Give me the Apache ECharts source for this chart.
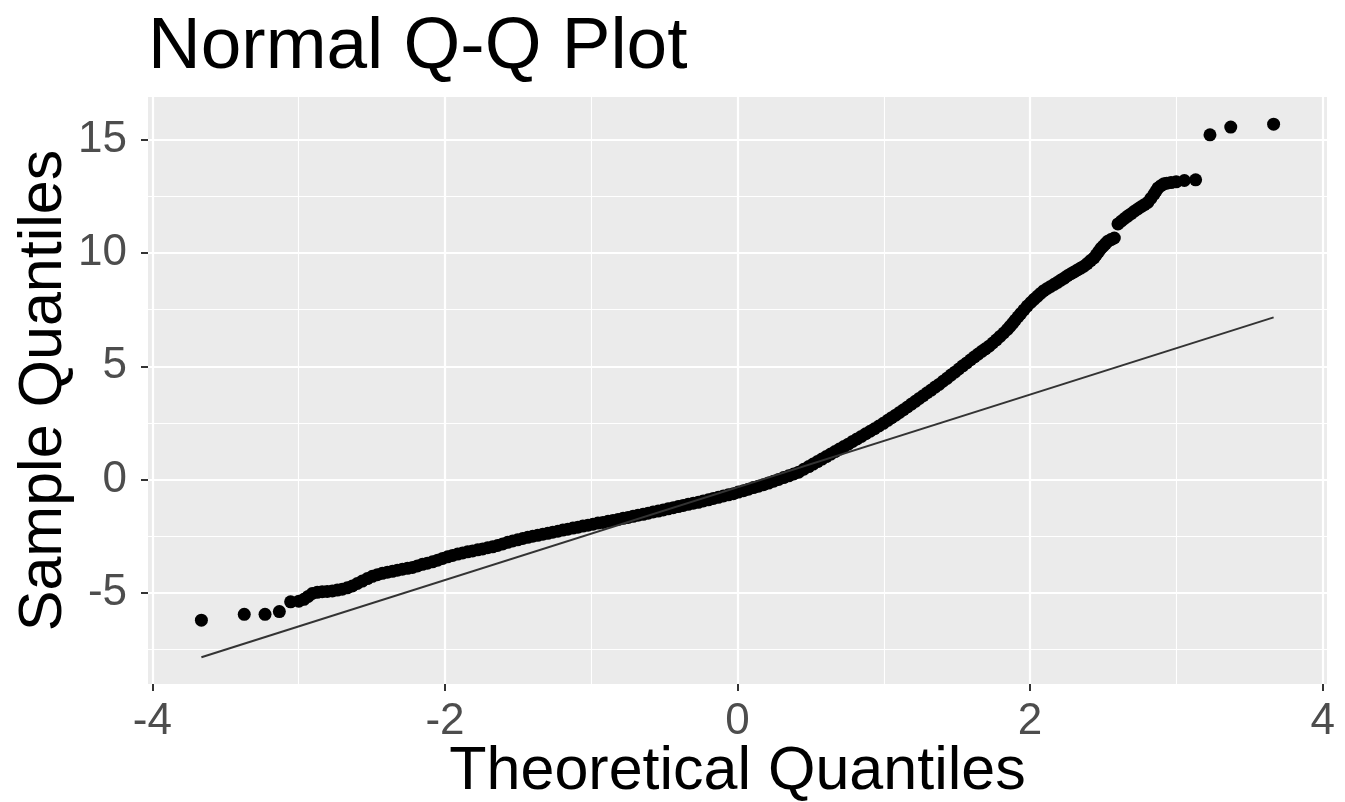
<!DOCTYPE html>
<html>
<head>
<meta charset="utf-8">
<title>Normal Q-Q Plot</title>
<script src="https://cdn.jsdelivr.net/npm/echarts@6/dist/echarts.min.js"></script>
<style>
  html, body { margin: 0; padding: 0; background: #ffffff; }
  #chart { width: 1345px; height: 802px; }
</style>
</head>
<body>
<div id="chart"></div>
<script>
// Theoretical (normal) quantiles and the matching sorted sample values
const theoretical = [
  -3.665, -3.372, -3.23, -3.132,
  -3.055, -2.999, -2.964, -2.935, -2.907, -2.873, -2.839, -2.805, -2.770, -2.736,
  -2.702, -2.668, -2.633, -2.599, -2.565, -2.530, -2.496, -2.462, -2.428, -2.393,
  -2.359, -2.325, -2.291, -2.256, -2.222, -2.188, -2.154, -2.120, -2.085, -2.050,
  -2.016, -1.982, -1.948, -1.913, -1.879, -1.845, -1.811, -1.776, -1.742, -1.708,
  -1.674, -1.640,
  -1.605, -1.571, -1.537, -1.503, -1.468, -1.434, -1.400, -1.366, -1.331, -1.297,
  -1.263, -1.228, -1.194, -1.160, -1.125, -1.091, -1.057, -1.022, -0.988, -0.954,
  -0.920, -0.885, -0.851, -0.817, -0.782, -0.748, -0.714, -0.680, -0.645, -0.611,
  -0.577, -0.542, -0.508, -0.474, -0.439, -0.405, -0.371, -0.337, -0.302, -0.268,
  -0.234, -0.199, -0.165, -0.131, -0.096, -0.062, -0.028, 0.006, 0.041, 0.075,
  0.109, 0.144, 0.178, 0.212, 0.247, 0.281, 0.315, 0.350, 0.384, 0.418, 0.453,
  0.487, 0.517, 0.547, 0.577, 0.607, 0.637, 0.667, 0.697, 0.727, 0.757, 0.787,
  0.817, 0.847, 0.877, 0.907, 0.937, 0.967, 0.997, 1.027, 1.054, 1.081, 1.108,
  1.135, 1.162, 1.189, 1.216, 1.243, 1.270, 1.297, 1.324, 1.351, 1.378, 1.405,
  1.432, 1.459, 1.486, 1.513, 1.540, 1.567, 1.594, 1.620, 1.645, 1.670, 1.695,
  1.720, 1.745, 1.770, 1.795, 1.820, 1.845, 1.863, 1.881, 1.899, 1.918, 1.936,
  1.958, 1.981, 2.005, 2.027, 2.050, 2.072, 2.094, 2.118, 2.141, 2.165, 2.188,
  2.211, 2.234, 2.256, 2.279, 2.301, 2.324, 2.346, 2.368, 2.391, 2.414, 2.437,
  2.453, 2.469, 2.485, 2.500, 2.516, 2.531, 2.553, 2.576,
  2.601, 2.623, 2.646, 2.668, 2.691, 2.713, 2.736, 2.759, 2.782, 2.805, 2.826,
  2.848, 2.862, 2.875, 2.895, 2.916, 2.935, 2.964, 2.999, 3.055, 3.132,
  3.23, 3.372, 3.665
];

const sample = [
  -6.22, -5.96, -5.96, -5.84,
  -5.41, -5.38, -5.30, -5.17, -5.04, -4.99, -4.96, -4.95, -4.93, -4.89,
  -4.85, -4.79, -4.71, -4.60, -4.49, -4.38, -4.28, -4.21, -4.15, -4.10,
  -4.06, -4.01, -3.97, -3.93, -3.89, -3.82, -3.75, -3.70, -3.64, -3.57,
  -3.49, -3.42, -3.36, -3.30, -3.25, -3.20, -3.16, -3.11, -3.07, -3.02,
  -2.98, -2.92,
  -2.85, -2.78, -2.72, -2.67, -2.61, -2.56, -2.51, -2.47, -2.42, -2.38,
  -2.33, -2.29, -2.24, -2.20, -2.15, -2.11, -2.06, -2.02, -1.98, -1.93,
  -1.90, -1.85, -1.81, -1.77, -1.72, -1.68, -1.63, -1.58, -1.54, -1.49,
  -1.44, -1.40, -1.35, -1.30, -1.25, -1.20, -1.15, -1.10, -1.05, -1.01,
  -0.95, -0.90, -0.84, -0.79, -0.73, -0.68, -0.63, -0.56, -0.50, -0.43,
  -0.36, -0.30, -0.23, -0.16, -0.08, 0.00, 0.08, 0.16, 0.24, 0.32, 0.45,
  0.57, 0.68, 0.79, 0.90, 1.01, 1.12, 1.23, 1.34, 1.45, 1.56, 1.68,
  1.79, 1.90, 2.02, 2.13, 2.24, 2.36, 2.48, 2.61, 2.73, 2.84, 2.96,
  3.08, 3.20, 3.33, 3.45, 3.58, 3.70, 3.83, 3.95, 4.08, 4.20, 4.34,
  4.47, 4.61, 4.74, 4.88, 5.02, 5.15, 5.29, 5.42, 5.54, 5.66, 5.77,
  5.89, 6.03, 6.17, 6.32, 6.47, 6.63, 6.76, 6.90, 7.04, 7.19, 7.33,
  7.49, 7.66, 7.82, 7.96, 8.09, 8.22, 8.34, 8.44, 8.53, 8.62, 8.71,
  8.81, 8.90, 9.00, 9.09, 9.17, 9.26, 9.34, 9.42, 9.54, 9.67, 9.79,
  9.93, 10.07, 10.21, 10.31, 10.42, 10.52, 10.60, 10.67,
  11.29, 11.41, 11.53, 11.64, 11.74, 11.85, 11.95, 12.05, 12.14, 12.24, 12.42,
  12.61, 12.75, 12.88, 12.98, 13.07, 13.09, 13.12, 13.15, 13.21, 13.24,
  15.23, 15.57, 15.70
];

// Reference line through the quartiles, drawn between the extreme theoretical quantiles
const lineX = [-3.665, 3.665];
const lineY = [-7.86, 7.16];

// Tick positions shown on each axis
const xTicks = [-4, -2, 0, 2, 4];
const yTicks = [-5, 0, 5, 10, 15];

const points = theoretical.map((q, i) => [q, sample[i]]);
const linePts = lineX.map((q, i) => [q, lineY[i]]);

const FONT = '"Liberation Sans", Arial, Helvetica, sans-serif';

const chart = echarts.init(document.getElementById('chart'), null, { renderer: 'canvas' });

chart.setOption({
  animation: false,
  backgroundColor: '#ffffff',
  title: {
    text: 'Normal Q-Q Plot',
    left: 148,
    top: 11,
    padding: 0,
    textStyle: { fontFamily: FONT, fontSize: 73, fontWeight: 'normal', color: '#000000' }
  },
  grid: {
    left: 148, right: 18, top: 97, bottom: 118,
    outerBoundsMode: 'none',
    containLabel: false,
    show: true, backgroundColor: '#EBEBEB', borderWidth: 0
  },
  xAxis: {
    type: 'value',
    min: -4.03, max: 4.03,
    splitNumber: 4, minInterval: 2, maxInterval: 2,
    name: 'Theoretical Quantiles',
    nameLocation: 'middle',
    nameGap: 58,
    nameMoveOverlap: false,
    nameTextStyle: { fontFamily: FONT, fontSize: 61, color: '#000000' },
    axisLine: { show: false, onZero: false },
    axisTick: { show: true, length: 7, lineStyle: { color: '#333333', width: 2 }, customValues: xTicks },
    axisLabel: { fontFamily: FONT, fontSize: 44, color: '#4D4D4D', margin: 16, customValues: xTicks },
    splitLine: { show: true, lineStyle: { color: '#ffffff', width: 2.2 } },
    minorTick: { show: false, splitNumber: 2 },
    minorSplitLine: { show: true, lineStyle: { color: '#ffffff', width: 1.1 } }
  },
  yAxis: {
    type: 'value',
    min: -9.04, max: 16.9,
    splitNumber: 5, minInterval: 5, maxInterval: 5,
    name: 'Sample Quantiles',
    nameLocation: 'middle',
    nameGap: 73,
    nameRotate: 90,
    nameMoveOverlap: false,
    nameTextStyle: { fontFamily: FONT, fontSize: 61, color: '#000000' },
    axisLine: { show: false, onZero: false },
    axisTick: { show: true, length: 7, lineStyle: { color: '#333333', width: 2 }, customValues: yTicks },
    axisLabel: { fontFamily: FONT, fontSize: 44, color: '#4D4D4D', margin: 21, customValues: yTicks },
    splitLine: { show: true, lineStyle: { color: '#ffffff', width: 2.2 } },
    minorTick: { show: false, splitNumber: 2 },
    minorSplitLine: { show: true, lineStyle: { color: '#ffffff', width: 1.1 } }
  },
  series: [
    {
      type: 'scatter',
      data: points,
      symbol: 'circle',
      symbolSize: 13,
      itemStyle: { color: '#000000', opacity: 1 },
      silent: true,
      z: 2
    },
    {
      type: 'line',
      data: linePts,
      symbol: 'none',
      lineStyle: { color: '#333333', width: 2 },
      silent: true,
      z: 3
    }
  ]
});
</script>
</body>
</html>
